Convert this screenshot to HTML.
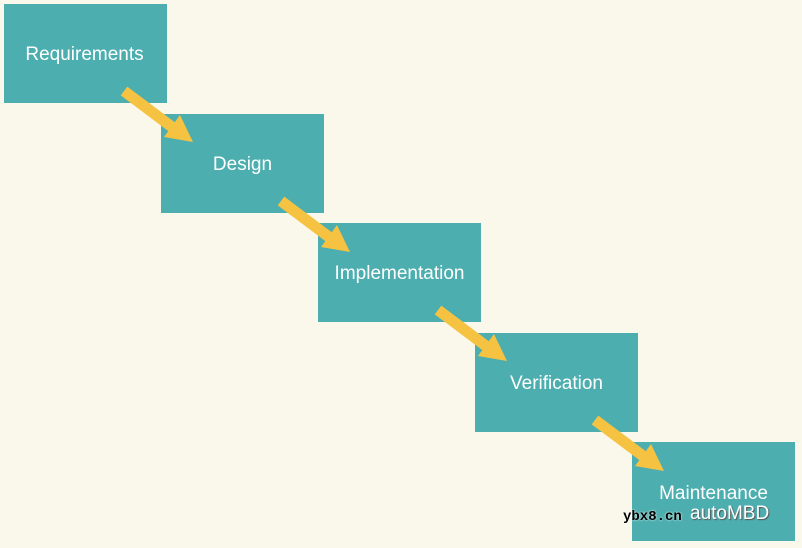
<!DOCTYPE html>
<html><head><meta charset="utf-8"><style>
html,body{margin:0;padding:0}
body{width:802px;height:548px;background:#faf8ea;position:relative;overflow:hidden;font-family:"Liberation Sans",sans-serif}
.b{position:absolute;width:163px;height:99px;background:#4daeaf;color:#fff;font-size:19px;display:flex;align-items:center;justify-content:center;padding-top:3px;box-sizing:border-box}
svg{position:absolute;left:0;top:0}
</style></head><body>
<div class="b" style="left:4px;top:4px;padding-right:2px">Requirements</div>
<div class="b" style="left:161px;top:114px">Design</div>
<div class="b" style="left:318px;top:223px">Implementation</div>
<div class="b" style="left:475px;top:333px">Verification</div>
<div class="b" style="left:632px;top:442px;align-items:flex-start;padding-top:0"><span style="margin-top:41px">Maintenance</span></div>
<div style="position:absolute;left:690px;top:503px;color:#fff;font-size:19px;text-shadow:1px 1px 1px #555">autoMBD</div>
<div style="position:absolute;left:623px;top:509px;color:#000;font-size:14px;font-weight:bold;font-family:'Liberation Mono',monospace;text-shadow:0 0 2px #fff">ybx8.cn</div>
<svg width="802" height="548">
<defs><g id="a"><line x1="124" y1="91" x2="176" y2="130" stroke="#f5c242" stroke-width="11"/><polygon points="193,142 164,137 180,115" fill="#f5c242"/></g></defs>
<use href="#a"/>
<use href="#a" transform="translate(157,110)"/>
<use href="#a" transform="translate(314,219)"/>
<use href="#a" transform="translate(471,329)"/>
</svg>
</body></html>
